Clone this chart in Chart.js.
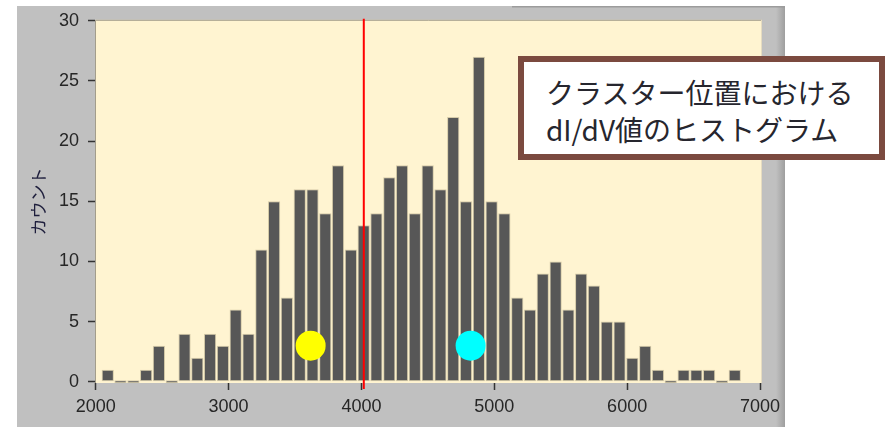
<!DOCTYPE html>
<html lang="ja">
<head>
  <meta charset="UTF-8">
  <title>dI/dV ヒストグラム</title>
  <script src="https://cdn.jsdelivr.net/npm/chart.js"></script>
  <style>
    body { margin: 0; background: #ffffff; }
    #wrap { position: relative; width: 890px; height: 427px; }
    #histChart { position: absolute; left: 0; top: 0; }
    /* 注記ボックス */
    #note {
      position: absolute; left: 518px; top: 56px; width: 367px; height: 104px;
      box-sizing: border-box; border: 6px solid #7b4a3f; background: #ffffff;
      padding: 12px 0 0 22px;
      font-family: "Noto Sans CJK JP", sans-serif; font-size: 28px; line-height: 37px;
      color: #26262e; white-space: nowrap;
    }
  </style>
</head>
<body>
  <div id="wrap">
    <canvas id="histChart" width="890" height="427"></canvas>
    <div id="note">クラスター位置における<br>dI/dV値のヒストグラム</div>
  </div>

  <script>
    // ビン中心 (dI/dV)
    const binCenters = [
      2091, 2187, 2284, 2380, 2476, 2573, 2669, 2765, 2861, 2958,
      3054, 3150, 3247, 3343, 3439, 3536, 3632, 3728, 3824, 3921,
      4017, 4113, 4210, 4306, 4402, 4499, 4595, 4691, 4787, 4884,
      4980, 5076, 5173, 5269, 5365, 5462, 5558, 5654, 5750, 5847,
      5943, 6039, 6136, 6232, 6328, 6425, 6521, 6617, 6713, 6810
    ];
    // カウント
    const counts = [
      1, 0, 0, 1, 3, 0, 4, 2, 4, 3,
      6, 4, 11, 15, 7, 16, 16, 14, 18, 11,
      13, 14, 17, 18, 14, 18, 16, 22, 15, 27,
      15, 14, 7, 6, 9, 10, 6, 9, 8, 5,
      5, 2, 3, 1, 0, 1, 1, 1, 0, 1
    ];
    // クラスター平均の目印
    const markerX = [3618, 4822];
    const markerY = [3, 3];
    const markerColors = ['#ffff00', '#00ffff'];
    // しきい値 (赤線)
    const thresholdX = 4018;
    // 目盛り
    const xTicks = [2000, 3000, 4000, 5000, 6000, 7000];
    const yTicks = [0, 5, 10, 15, 20, 25, 30];

    const tickFont = { family: 'Liberation Sans', size: 18 };

    // 灰色の枠とプロット背景
    const framePlugin = {
      id: 'frame',
      beforeDraw(chart) {
        const { ctx, chartArea: a } = chart;
        ctx.save();
        ctx.fillStyle = '#c0c0c0';
        ctx.fillRect(17, 6, 768, 421);
        ctx.fillStyle = '#9c9c9c';
        ctx.fillRect(512, 6, 273, 1.5);
        const g = ctx.createLinearGradient(776, 0, 785, 0);
        g.addColorStop(0, 'rgba(150,150,150,0)');
        g.addColorStop(1, 'rgba(150,150,150,0.8)');
        ctx.fillStyle = g;
        ctx.fillRect(776, 7, 9, 420);
        ctx.fillStyle = '#fff4d1';
        ctx.fillRect(a.left, a.top, a.right - a.left, a.bottom - a.top);
        ctx.strokeStyle = '#a39d8b';
        ctx.lineWidth = 1;
        ctx.beginPath();
        ctx.moveTo(a.left + 0.5, a.bottom);
        ctx.lineTo(a.left + 0.5, a.top + 0.5);
        ctx.lineTo(a.right, a.top + 0.5);
        ctx.stroke();
        ctx.strokeStyle = '#e6dcc0';
        ctx.beginPath();
        ctx.moveTo(a.right - 0.5, a.top);
        ctx.lineTo(a.right - 0.5, a.bottom);
        ctx.stroke();
        ctx.restore();
      }
    };

    // 赤い縦線
    const thresholdPlugin = {
      id: 'threshold',
      afterDatasetsDraw(chart) {
        const { ctx, chartArea: a, scales } = chart;
        const x = scales.x.getPixelForValue(thresholdX);
        ctx.save();
        ctx.strokeStyle = '#ff0000';
        ctx.lineWidth = 2;
        ctx.beginPath();
        ctx.moveTo(x, a.top - 1);
        ctx.lineTo(x, a.bottom + 6);
        ctx.stroke();
        ctx.restore();
      }
    };

    new Chart(document.getElementById('histChart'), {
      type: 'bar',
      data: {
        datasets: [
          {
            type: 'scatter',
            data: markerX.map((x, i) => ({ x: x, y: markerY[i] })),
            pointRadius: 15,
            pointBackgroundColor: markerColors,
            pointBorderWidth: 0,
            order: 1
          },
          {
            data: binCenters.map((x, i) => ({ x: x, y: counts[i] })),
            backgroundColor: '#575757',
            borderColor: '#d6cba8',
            borderWidth: 1,
            borderSkipped: false,
            barPercentage: 0.96,
            categoryPercentage: 1,
            minBarLength: 3,
            order: 2
          }
        ]
      },
      options: {
        responsive: false,
        animation: false,
        layout: { padding: { top: 15, right: 128, bottom: 0, left: 0 } },
        plugins: {
          legend: { display: false },
          tooltip: { enabled: false }
        },
        scales: {
          x: {
            type: 'linear',
            min: 1995,
            max: 7015,
            offset: false,
            afterBuildTicks: (s) => { s.ticks = xTicks.map(v => ({ value: v })); },
            afterFit: (s) => { s.height = 44; },
            border: { display: false },
            grid: { drawOnChartArea: false, drawTicks: true, tickLength: 7, tickColor: '#333333', tickWidth: 1.5, offset: false },
            ticks: {
              font: tickFont, color: '#262626', padding: 6, maxRotation: 0, autoSkip: false,
              callback: (v) => String(v)
            }
          },
          y: {
            min: -0.1,
            max: 30.08,
            afterBuildTicks: (s) => { s.ticks = yTicks.map(v => ({ value: v })); },
            afterFit: (s) => { s.width = 95; },
            border: { display: false },
            grid: { drawOnChartArea: false, drawTicks: true, tickLength: 7, tickColor: '#333333', tickWidth: 1.5 },
            ticks: { font: tickFont, color: '#262626', padding: 9, callback: (v) => String(v) },
            title: {
              display: true,
              text: 'カウント',
              color: '#1e1e3c',
              font: { family: 'Noto Sans CJK JP', size: 17 },
              padding: { top: 28 }
            }
          }
        }
      },
      plugins: [framePlugin, thresholdPlugin]
    });
  </script>
</body>
</html>
